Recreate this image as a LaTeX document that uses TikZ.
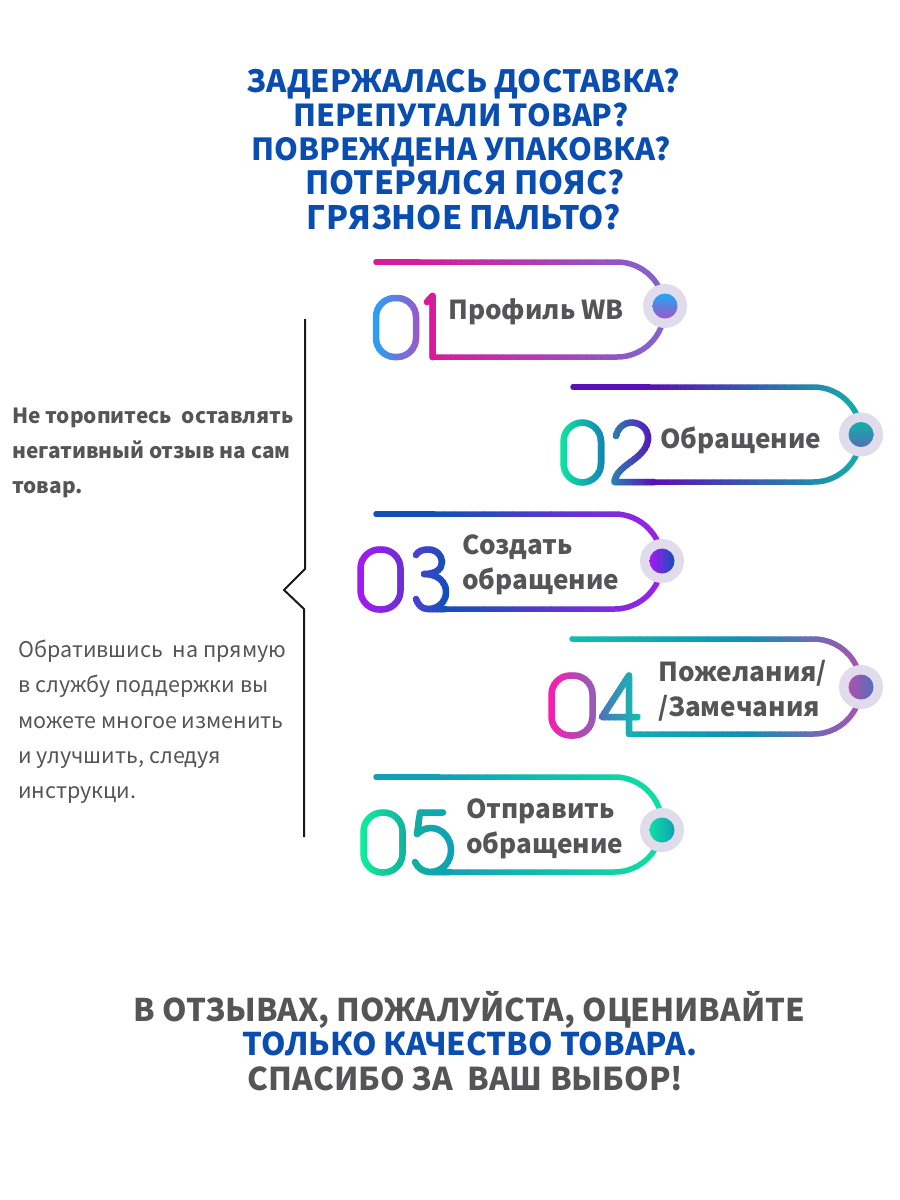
\documentclass[tikz,border=0pt]{standalone}
\usepackage{fontspec}
\setmainfont{Noto Sans CJK SC}
\definecolor{titleblue}{HTML}{0A4DB0}
\definecolor{txt}{HTML}{555558}
\definecolor{halo}{HTML}{E0DCEC}
\definecolor{cMag}{HTML}{D81B9A}
\definecolor{cLav}{HTML}{8066D0}
\definecolor{cSky}{HTML}{1FA8F5}
\definecolor{cOrc}{HTML}{A055C8}
\definecolor{cPur}{HTML}{5A10B8}
\definecolor{cTeal}{HTML}{10B0A8}
\definecolor{cMint}{HTML}{10E8A0}
\definecolor{cSea}{HTML}{1085B5}
\definecolor{cTB}{HTML}{2A85B0}
\definecolor{cNavy}{HTML}{1050B8}
\definecolor{cVio}{HTML}{A020E8}
\definecolor{cVib}{HTML}{A818F5}
\definecolor{cInd}{HTML}{6A30D0}
\definecolor{cBlu}{HTML}{5040D0}
\definecolor{cTq}{HTML}{10C0B0}
\definecolor{cCy}{HTML}{1090B8}
\definecolor{cPl}{HTML}{B050B0}
\definecolor{cPink}{HTML}{FF18B0}
\definecolor{cMau}{HTML}{9060B8}
\definecolor{cSl}{HTML}{5070B8}
\definecolor{cGr}{HTML}{10E0A0}
\definecolor{cGq}{HTML}{10A0B8}
\definecolor{cGm}{HTML}{10F098}
\definecolor{cGt}{HTML}{10B0A0}
\tikzset{
  stroke5/.style={line width=5.5pt,line cap=round,line join=round},
  digit/.style={line width=6.5pt},
  titletext/.style={inner sep=0pt,anchor=base,text=titleblue,font=\fontsize{#1}{34}\selectfont\bfseries},
  closing/.style={inner sep=0pt,anchor=base,font=\fontsize{#1}{34}\selectfont\bfseries},
  tagtext/.style={inner sep=0pt,align=left,anchor=west,text=txt,font=\fontsize{26.1}{35}\selectfont\bfseries},
  sidebold/.style={inner sep=0pt,align=left,anchor=north west,text=txt,font=\fontsize{20.85}{35}\selectfont\bfseries},
  sidetext/.style={inner sep=0pt,align=left,anchor=north west,text=txt,font=\fontsize{21.5}{35.2}\selectfont},
  haloc/.style={circle,inner sep=0pt,minimum size=44pt,fill=halo},
  dotc/.style={circle,inner sep=0pt,minimum size=25pt},
}
% horizontal colour ramp along a stroked path: #1,#2 x range, #3,#4 colours, #5 path
\newcommand{\gradstroke}[5]{%
  \pgfmathsetmacro{\stripw}{(#2-#1)/24}%
  \foreach \ii in {0,...,23}{%
    \pgfmathtruncatemacro{\pp}{100*\ii/23}%
    \begin{scope}
      \clip (#1+\ii*\stripw-0.3,0) rectangle (#1+\ii*\stripw+\stripw+0.3,1200);
      \draw[stroke5,color=#4!\pp!#3] #5;
    \end{scope}
  }%
}
% outline of a tag: start x, top y, arc centre x, bottom y, end x
\newcommand{\tagpath}[5]{(#1,#2) -- (#3,#2) .. controls (#3+26.2,#2) and (#3+47.5,#2+21.3) .. (#3+47.5,#2+47.5) .. controls (#3+47.5,#4-21.3) and (#3+26.2,#4) .. (#3,#4) -- (#5,#4)}
\newcommand{\zeropath}[4]{[digit,rounded corners=19pt] (#1,#2) rectangle (#3,#4)}
\begin{document}
\begin{tikzpicture}[x=1pt,y=-1pt]
\path[fill=white,use as bounding box] (0,0) rectangle (900,1200);

% title
\node[titletext=30.7] (title1) at (463,92) {ЗАДЕРЖАЛАСЬ ДОСТАВКА?};
\node[titletext=30.2] (title2) at (461,126) {ПЕРЕПУТАЛИ ТОВАР?};
\node[titletext=30.4] (title3) at (461,160) {ПОВРЕЖДЕНА УПАКОВКА?};
\node[titletext=31.9] (title4) at (465,194.5) {ПОТЕРЯЛСЯ ПОЯС?};
\node[titletext=32.2] (title5) at (464,229.5) {ГРЯЗНОЕ ПАЛЬТО?};

% bracket
\coordinate (b1) at (305,319);
\coordinate (b2) at (305,569);
\coordinate (b3) at (284,590);
\coordinate (b4) at (304,609);
\coordinate (b5) at (304,837);
\draw[line width=2pt,color=black!90] (b1) -- (b2) -- (b3) -- (b4) -- (b5);

% side text
\node[sidebold] (sidea) at (12,407.5) {Не торопитесь~ оставлять\\негативный отзыв на сам\\товар.};
\node[sidetext] (sideb) at (18,640) {Обратившись~ на прямую\\в службу поддержки вы\\можете многое изменить\\и улучшить, следуя\\инструкци.};

% tag 1
\gradstroke{420}{670}{cMag}{cLav}{\tagpath{376}{262}{617}{357}{432.5}}
\gradstroke{370}{420}{cMag}{cMag}{(376,262) -- (420,262)}
\gradstroke{370}{422}{cSky}{cOrc}{\zeropath{376}{298}{416}{357}}
\gradstroke{420}{440}{cMag}{cMag}{[digit] (427,302) -- (432.5,296) -- (432.5,357)}
\node[haloc] (h1) at (665,306) {};
\node[dotc,top color=cSky,bottom color=cOrc] (d1) at (665,306) {};
\node[tagtext] (t1) at (448,312) {Профиль WB};

% tag 2
\gradstroke{650}{866}{cPur}{cTeal}{\tagpath{573}{387}{813.5}{482}{650}}
\gradstroke{565}{650}{cPur}{cPur}{(573,387) -- (650,387)}
\gradstroke{558}{606}{cMint}{cSea}{\zeropath{563.5}{422.5}{601}{482.5}}
\gradstroke{610}{655}{cTB}{cPur}{[digit] (616,436) .. controls (618,427) and (625,422.5) .. (631,422.5) .. controls (642,422.5) and (648,430) .. (648,438) .. controls (648,448) and (640,455) .. (632,461) .. controls (625,466) and (615,473) .. (614.5,482) -- (655,482)}
\node[haloc] (h2) at (861,434.5) {};
\node[dotc,top color=cTeal,bottom color=cSl] (d2) at (861,434.5) {};
\node[tagtext] (t2) at (660,440) {Обращение};

% tag 3
\gradstroke{435}{668}{cNavy}{cVio}{\tagpath{376}{514}{614.5}{609}{437}}
\gradstroke{370}{435}{cNavy}{cNavy}{(376,514) -- (435,514)}
\gradstroke{355}{406}{cVib}{cInd}{\zeropath{360.5}{549.5}{400.5}{609.5}}
\gradstroke{412}{450}{cBlu}{cNavy}{[digit] (416,555) .. controls (418,551) and (423,549.5) .. (428,549.5) .. controls (437,549.5) and (442,556) .. (442,562) .. controls (442,569) and (436,574) .. (424,574) .. controls (438,574) and (446,582) .. (446,592) .. controls (446,602) and (438,609) .. (428,609) .. controls (422,609) and (418,605) .. (416,599) (428,609) -- (445,609)}
\node[haloc] (h3) at (662,561) {};
\node[dotc,left color=cVib,right color=cNavy] (d3) at (662,561) {};
\node[tagtext] (t3) at (462,565) {Создать\\обращение};

% tag 4
\gradstroke{565}{745}{cTq}{cCy}{\tagpath{572}{639}{813.5}{734}{629}}
\begin{scope}
  \clip (745,0) rectangle (900,1200);
  \gradstroke{745}{866}{cCy}{cPl}{\tagpath{572}{639}{813.5}{734}{629}}
\end{scope}
\gradstroke{545}{598}{cPink}{cMau}{\zeropath{551.5}{675.5}{592.5}{735.5}}
\gradstroke{598}{640}{cSl}{cTq}{[digit] (629,675.5) -- (602,717) -- (638,717) (629,675.5) -- (629,734)}
\node[haloc] (h4) at (861,687) {};
\node[dotc,left color=cPl,right color=cSl] (d4) at (861,687) {};
\node[tagtext] (t4) at (658,690.5) {Пожелания/\\/Замечания};

% tag 5
\gradstroke{440}{668}{cGq}{cGr}{\tagpath{376}{777}{614.5}{872}{440}}
\gradstroke{370}{440}{cGq}{cGq}{(376,777) -- (440,777)}
\gradstroke{358}{408}{cGm}{cGt}{\zeropath{363.5}{812.5}{402.5}{872.5}}
\gradstroke{410}{456}{cGt}{cGq}{[digit] (443,812.5) -- (420,812.5) -- (417,834) .. controls (421,830) and (426,828) .. (431,828) .. controls (442,828) and (451,838) .. (451,850) .. controls (451,862) and (442,872) .. (430,872) .. controls (423,872) and (418,868) .. (415,862) (430,872) -- (450,872)}
\node[haloc] (h5) at (662,830) {};
\node[dotc,left color=cGr,right color=cGq] (d5) at (662,830) {};
\node[tagtext] (t5) at (466,829) {Отправить\\обращение};

% closing
\node[closing=31.2,text=txt] (closing1) at (469.5,1021.5) {В ОТЗЫВАХ, ПОЖАЛУЙСТА, ОЦЕНИВАЙТЕ};
\node[closing=31.2,text=titleblue] (closing2) at (469.5,1055.5) {ТОЛЬКО КАЧЕСТВО ТОВАРА.};
\node[closing=31.4,text=txt] (closing3) at (465.5,1090.5) {СПАСИБО ЗА~ ВАШ ВЫБОР!};
\end{tikzpicture}
\end{document}
